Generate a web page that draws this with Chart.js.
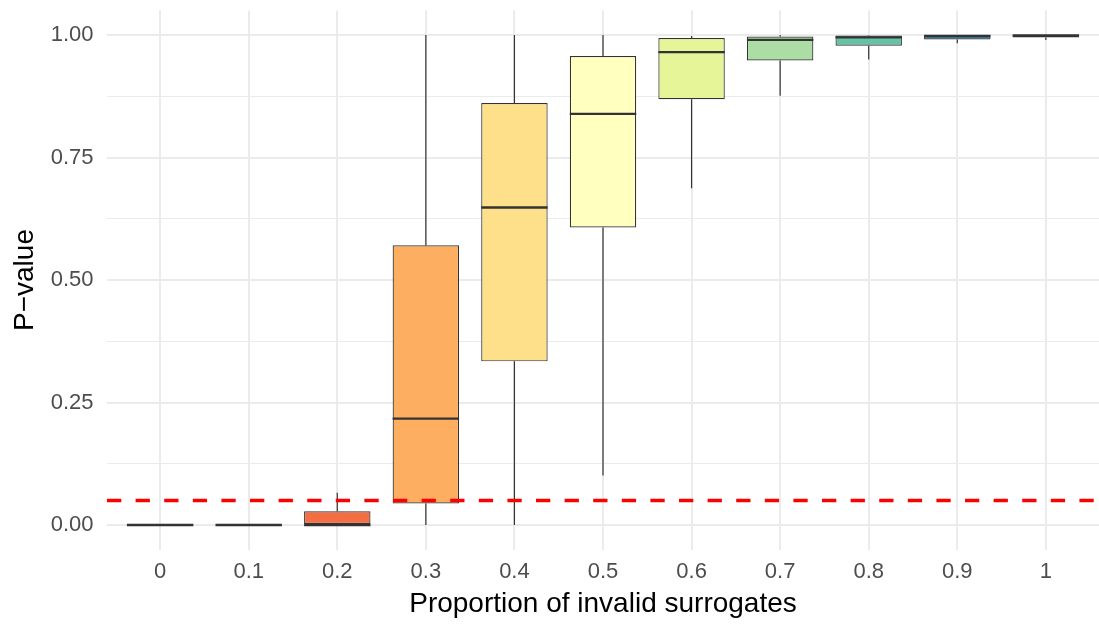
<!DOCTYPE html>
<html>
<head>
<meta charset="utf-8">
<script src="https://cdn.jsdelivr.net/npm/chart.js@4.4.1/dist/chart.umd.min.js"></script>
<style>
  html, body { margin: 0; padding: 0; background: #ffffff; }
  #wrap { width: 1099px; height: 624px; }
</style>
</head>
<body>
<div id="wrap"><canvas id="chart"></canvas></div>
<script>
// proportion of invalid surrogates
const categories = ['0', '0.1', '0.2', '0.3', '0.4', '0.5', '0.6', '0.7', '0.8', '0.9', '1'];
// box stats per category
const whiskerLow  = [0, 0, 0,     0,     0,     0.101, 0.687, 0.876, 0.950, 0.983, 0.990];
const q1          = [0, 0, 0,     0.044, 0.334, 0.607, 0.869, 0.948, 0.978, 0.991, 0.995];
const median      = [0, 0, 0,     0.217, 0.648, 0.839, 0.965, 0.990, 0.995, 0.998, 0.999];
const q3          = [0, 0, 0.028, 0.571, 0.861, 0.957, 0.994, 0.997, 0.999, 1.000, 1.000];
const whiskerHigh = [0, 0, 0.066, 1.000, 1.000, 1.000, 0.998, 1.000, 1.000, 1.000, 1.000];
const fillColors  = ['#9E0142', '#D53E4F', '#F46D43', '#FDAE61', '#FEE08B', '#FFFFBF',
                     '#E6F598', '#ABDDA4', '#66C2A5', '#3288BD', '#5E4FA2'];
const threshold = 0.05;
const yMajorTicks = [0, 0.25, 0.5, 0.75, 1];
const yMinorTicks = [0.125, 0.375, 0.625, 0.875];

const lineColor = '#333333';

// whiskers under the boxes, medians on top of them
const boxPlotPlugin = {
    id: 'boxPlot',
    beforeDatasetsDraw(chart) {
        const ctx = chart.ctx;
        const y = chart.scales.y;
        const meta = chart.getDatasetMeta(0);
        ctx.save();
        ctx.strokeStyle = lineColor;
        ctx.lineWidth = 1.2;
        meta.data.forEach((bar, i) => {
            ctx.beginPath();
            ctx.moveTo(bar.x, y.getPixelForValue(q3[i]));
            ctx.lineTo(bar.x, y.getPixelForValue(whiskerHigh[i]));
            ctx.moveTo(bar.x, y.getPixelForValue(q1[i]));
            ctx.lineTo(bar.x, y.getPixelForValue(whiskerLow[i]));
            ctx.stroke();
        });
        ctx.restore();
    },
    afterDatasetDraw(chart, args) {
        if (args.index !== 0) {
            return;
        }
        const ctx = chart.ctx;
        const y = chart.scales.y;
        const meta = chart.getDatasetMeta(0);
        ctx.save();
        ctx.strokeStyle = lineColor;
        ctx.lineWidth = 2.3;
        meta.data.forEach((bar, i) => {
            const py = y.getPixelForValue(median[i]);
            ctx.beginPath();
            ctx.moveTo(bar.x - bar.width / 2, py);
            ctx.lineTo(bar.x + bar.width / 2, py);
            ctx.stroke();
        });
        ctx.restore();
    }
};

const xMin = -0.6;
const xMax = categories.length - 1 + 0.6;

const tickFont = {family: '"Liberation Sans", Arial, sans-serif', size: 22};
const titleFont = {family: '"Liberation Sans", Arial, sans-serif', size: 28};

new Chart(document.getElementById('chart'), {
    type: 'bar',
    plugins: [boxPlotPlugin],
    data: {
        datasets: [
            {
                type: 'bar',
                data: categories.map((c, i) => ({x: i, y: [q1[i], q3[i]]})),
                backgroundColor: fillColors,
                borderColor: lineColor,
                borderWidth: 1.2,
                borderSkipped: false,
                barPercentage: 0.75,
                categoryPercentage: 1.0,
                order: 2
            },
            {
                type: 'line',
                data: [{x: xMin, y: threshold}, {x: xMax, y: threshold}],
                borderColor: '#FF0000',
                borderWidth: 3.5,
                borderDash: [14.3, 14.3],
                pointRadius: 0,
                fill: false,
                order: 1
            }
        ]
    },
    options: {
        responsive: true,
        maintainAspectRatio: false,
        animation: false,
        events: [],
        layout: {padding: {top: 10.5, right: 0, left: 0, bottom: 0}},
        plugins: {
            legend: {display: false},
            tooltip: {enabled: false}
        },
        scales: {
            x: {
                type: 'linear',
                min: xMin,
                max: xMax,
                offset: false,
                afterBuildTicks: scale => {
                    scale.ticks = categories.map((c, i) => ({value: i}));
                },
                afterFit: scale => {
                    scale.height = 74.5;
                    scale.paddingLeft = 0;
                    scale.paddingRight = 0;
                },
                grid: {
                    offset: false,
                    color: '#EBEBEB',
                    lineWidth: 2,
                    drawTicks: false
                },
                border: {display: false},
                ticks: {
                    callback: value => categories[value],
                    color: '#4D4D4D',
                    font: tickFont,
                    padding: 9.3,
                    maxRotation: 0,
                    autoSkip: false
                },
                title: {
                    display: true,
                    text: 'Proportion of invalid surrogates',
                    color: '#000000',
                    font: titleFont,
                    padding: {top: 0, bottom: 3.2}
                }
            },
            y: {
                min: -0.05,
                max: 1.05,
                afterBuildTicks: scale => {
                    scale.ticks = yMajorTicks.concat(yMinorTicks)
                        .sort((a, b) => a - b)
                        .map(v => ({value: v}));
                },
                afterFit: scale => {
                    scale.width = 107;
                    scale.paddingTop = 0;
                    scale.paddingBottom = 0;
                },
                grid: {
                    color: '#EBEBEB',
                    lineWidth: ctx => yMajorTicks.includes(ctx.tick.value) ? 2 : 1,
                    drawTicks: false
                },
                border: {display: false},
                ticks: {
                    callback: value => yMajorTicks.includes(value) ? value.toFixed(2) : '',
                    color: '#4D4D4D',
                    font: tickFont,
                    padding: 13.5
                },
                title: {
                    display: true,
                    text: 'P\u2212value',
                    color: '#000000',
                    font: titleFont,
                    padding: {top: 8.2, bottom: 0}
                }
            }
        }
    }
});
</script>
</body>
</html>
